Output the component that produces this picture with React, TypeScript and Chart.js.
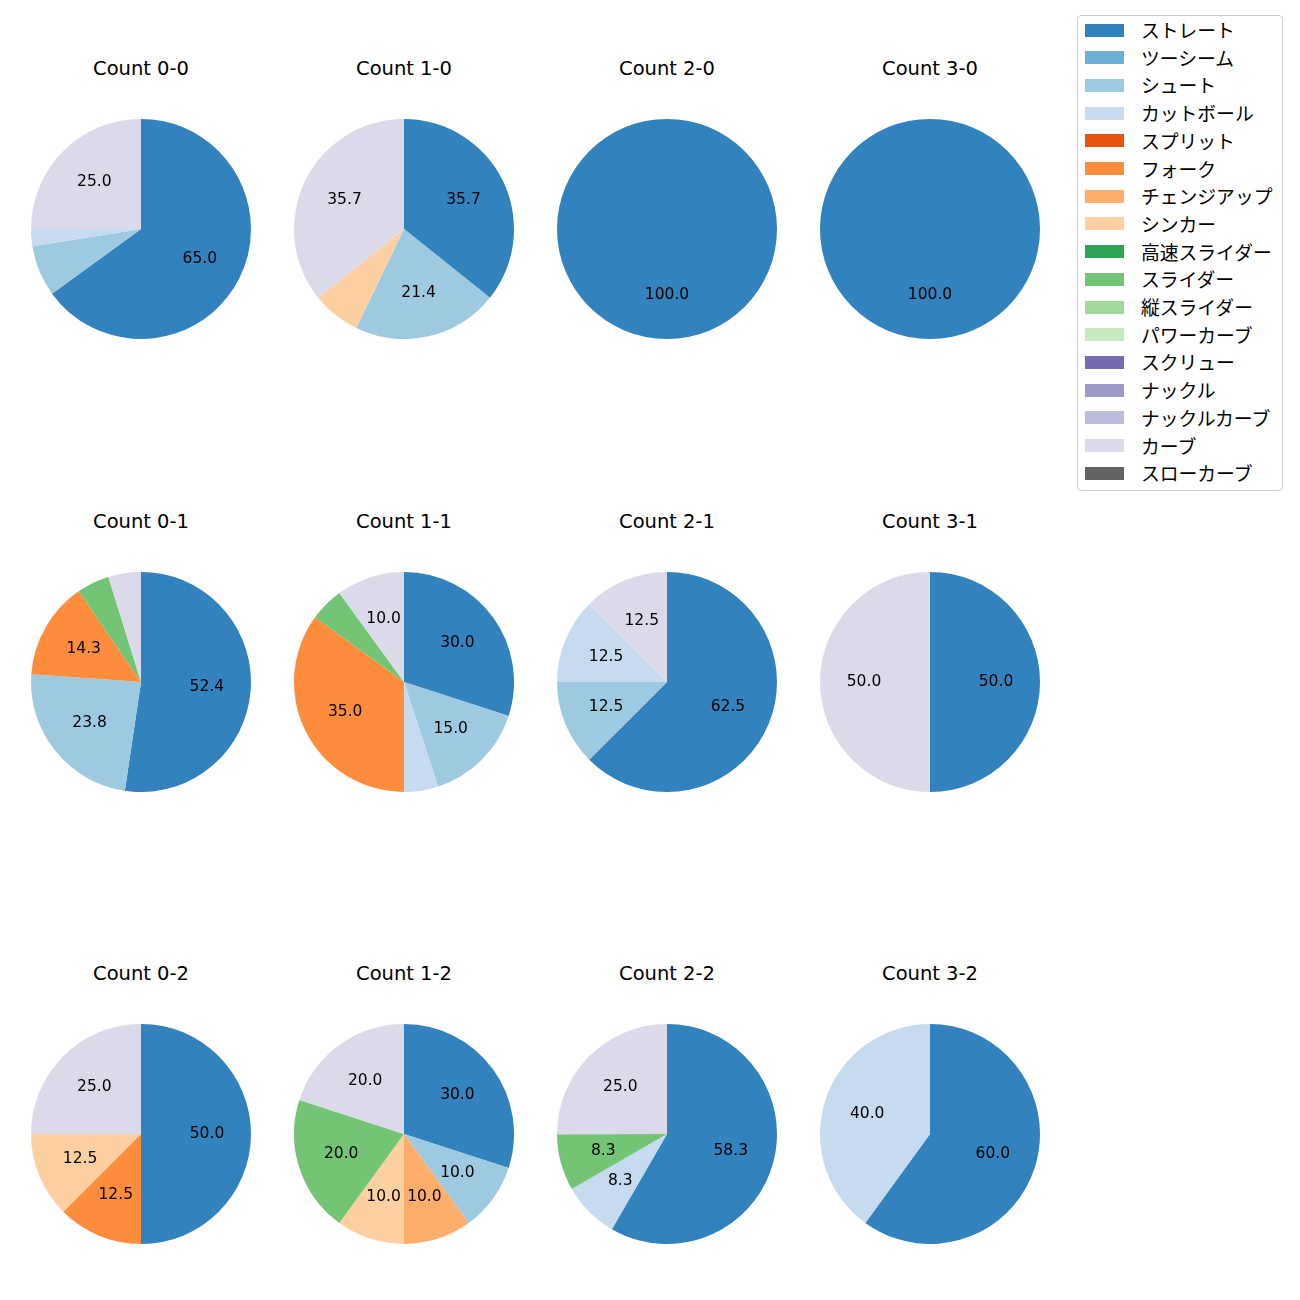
import React, { useEffect, useRef } from "react";
import { Chart, registerables } from "chart.js";

Chart.register(...registerables);

// ---- data ----
const pitchTypes = [
  "ストレート", "ツーシーム", "シュート", "カットボール", "スプリット", "フォーク",
  "チェンジアップ", "シンカー", "高速スライダー", "スライダー", "縦スライダー",
  "パワーカーブ", "スクリュー", "ナックル", "ナックルカーブ", "カーブ", "スローカーブ",
];
const pitchColors = [
  "#3182bd", "#6baed6", "#9ecae1", "#c6dbef", "#e6550d", "#fd8d3c",
  "#fdae6b", "#fdd0a2", "#31a354", "#74c476", "#a1d99b",
  "#c7e9c0", "#756bb1", "#9e9ac8", "#bcbddc", "#dadaeb", "#636363",
];

// order: ストレート, ツーシーム, シュート, カットボール, スプリット, フォーク, チェンジアップ, シンカー,
//        高速スライダー, スライダー, 縦スライダー, パワーカーブ, スクリュー, ナックル, ナックルカーブ, カーブ, スローカーブ
const count00 = [65.0, 0, 7.5, 2.5, 0, 0, 0, 0, 0, 0, 0, 0, 0, 0, 0, 25.0, 0];
const count10 = [35.7, 0, 21.4, 0, 0, 0, 0, 7.1, 0, 0, 0, 0, 0, 0, 0, 35.7, 0];
const count20 = [100.0, 0, 0, 0, 0, 0, 0, 0, 0, 0, 0, 0, 0, 0, 0, 0, 0];
const count30 = [100.0, 0, 0, 0, 0, 0, 0, 0, 0, 0, 0, 0, 0, 0, 0, 0, 0];
const count01 = [52.4, 0, 23.8, 0, 0, 14.3, 0, 0, 0, 4.8, 0, 0, 0, 0, 0, 4.8, 0];
const count11 = [30.0, 0, 15.0, 5.0, 0, 35.0, 0, 0, 0, 5.0, 0, 0, 0, 0, 0, 10.0, 0];
const count21 = [62.5, 0, 12.5, 12.5, 0, 0, 0, 0, 0, 0, 0, 0, 0, 0, 0, 12.5, 0];
const count31 = [50.0, 0, 0, 0, 0, 0, 0, 0, 0, 0, 0, 0, 0, 0, 0, 50.0, 0];
const count02 = [50.0, 0, 0, 0, 0, 12.5, 0, 12.5, 0, 0, 0, 0, 0, 0, 0, 25.0, 0];
const count12 = [30.0, 0, 10.0, 0, 0, 0, 10.0, 10.0, 0, 20.0, 0, 0, 0, 0, 0, 20.0, 0];
const count22 = [58.3, 0, 0, 8.3, 0, 0, 0, 0, 0, 8.3, 0, 0, 0, 0, 0, 25.0, 0];
const count32 = [60.0, 0, 0, 40.0, 0, 0, 0, 0, 0, 0, 0, 0, 0, 0, 0, 0, 0];

const countTitles = [
  "Count 0-0", "Count 1-0", "Count 2-0", "Count 3-0",
  "Count 0-1", "Count 1-1", "Count 2-1", "Count 3-1",
  "Count 0-2", "Count 1-2", "Count 2-2", "Count 3-2",
];
const countValues = [
  count00, count10, count20, count30,
  count01, count11, count21, count31,
  count02, count12, count22, count32,
];

// ---- layout ----
const colCenters = [141, 404, 667, 930];
const rowCenters = [229, 682, 1134];
const titleCenters = [69, 522, 974];
const R = 110;
const FONT = '"DejaVu Sans", "Noto Sans CJK JP", sans-serif';
const CJK_FONT = '"Noto Sans CJK JP", "DejaVu Sans", sans-serif';

const labelPlugin = {
  id: "pctLabels",
  afterDatasetsDraw(chart: any) {
    const ctx = chart.ctx;
    const meta = chart.getDatasetMeta(0);
    const data = chart.data.datasets[0].data as number[];
    ctx.save();
    ctx.font = `15.5px ${FONT}`;
    ctx.fillStyle = "#000";
    ctx.textAlign = "center";
    ctx.textBaseline = "middle";
    meta.data.forEach((arc: any, i: number) => {
      const v = data[i];
      if (v < 8) return;
      const mid = (arc.startAngle + arc.endAngle) / 2;
      const r = arc.outerRadius * 0.6;
      ctx.fillText(v.toFixed(1), arc.x + Math.cos(mid) * r, arc.y + Math.sin(mid) * r);
    });
    ctx.restore();
  },
};

function Pie({ values }: { values: number[] }) {
  const ref = useRef<HTMLCanvasElement>(null);
  useEffect(() => {
    const chart = new Chart(ref.current!, {
      type: "pie",
      data: {
        labels: pitchTypes,
        datasets: [
          {
            data: values,
            backgroundColor: pitchColors,
            borderWidth: 0,
          },
        ],
      },
      options: {
        animation: false,
        responsive: false,
        maintainAspectRatio: false,
        layout: { padding: 0 },
        plugins: { legend: { display: false }, tooltip: { enabled: false }, title: { display: false } },
      },
      plugins: [labelPlugin],
    });
    return () => chart.destroy();
  }, [values]);
  return <canvas ref={ref} width={2 * R} height={2 * R} style={{ width: 2 * R, height: 2 * R }} />;
}

export default function App() {
  return (
    <div style={{ position: "absolute", left: 0, top: 0, width: 1300, height: 1300, background: "#fff", fontFamily: FONT }}>
      {countValues.map((vals, i) => {
        const col = i % 4;
        const row = Math.floor(i / 4);
        const cx = colCenters[col];
        const cy = rowCenters[row];
        return (
          <React.Fragment key={i}>
            <div
              style={{
                position: "absolute",
                left: cx - 100,
                width: 200,
                top: titleCenters[row] - 14,
                height: 28,
                lineHeight: "28px",
                textAlign: "center",
                fontSize: 19.5,
                color: "#000",
              }}
            >
              {countTitles[i]}
            </div>
            <div style={{ position: "absolute", left: cx - R, top: cy - R, width: 2 * R, height: 2 * R }}>
              <Pie values={vals} />
            </div>
          </React.Fragment>
        );
      })}
      <div
        style={{
          position: "absolute",
          left: 1077,
          top: 15,
          width: 204,
          height: 474,
          border: "1px solid #cccccc",
          borderRadius: 4,
          background: "#fff",
          fontFamily: CJK_FONT,
        }}
      >
        {pitchTypes.map((name, i) => (
          <div
            key={name}
            style={{ position: "absolute", left: 0, top: 14 + i * 27.7 - 14, height: 28, width: 204 }}
          >
            <div
              style={{
                position: "absolute",
                left: 7,
                top: 7.5,
                width: 39,
                height: 13,
                background: pitchColors[i],
              }}
            />
            <div
              style={{
                position: "absolute",
                left: 63,
                top: 0,
                height: 28,
                lineHeight: "28px",
                fontSize: 18.8,
                color: "#000",
                whiteSpace: "nowrap",
              }}
            >
              {name}
            </div>
          </div>
        ))}
      </div>
    </div>
  );
}
